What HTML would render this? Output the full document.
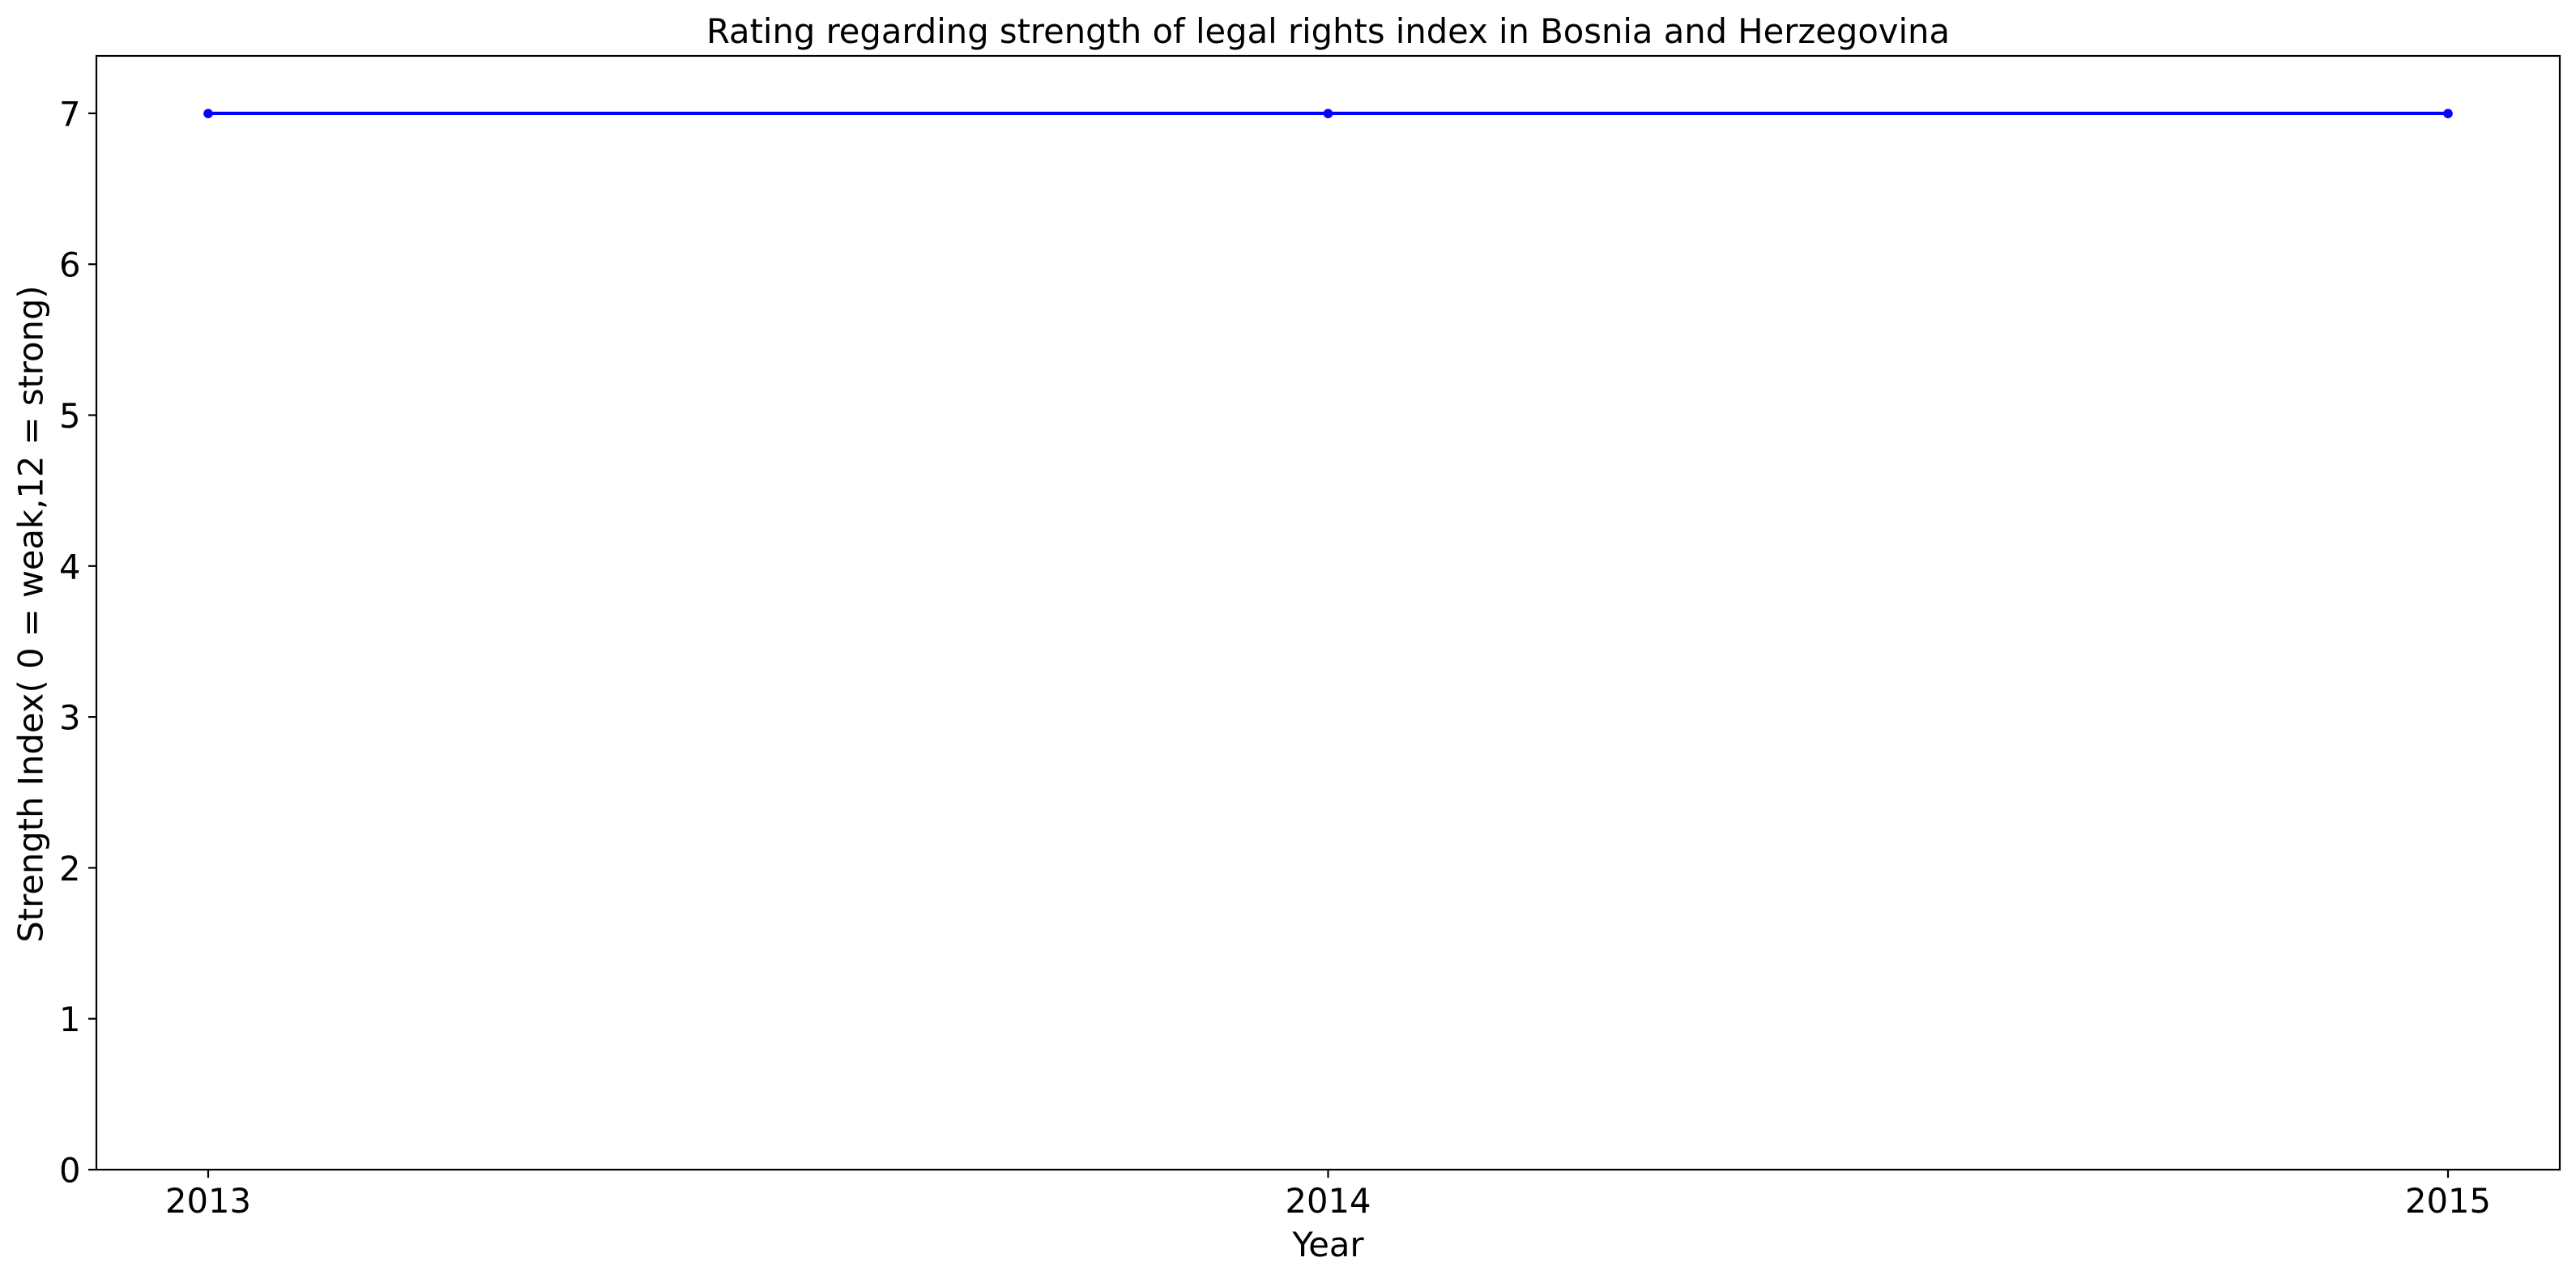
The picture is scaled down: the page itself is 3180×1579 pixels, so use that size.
<!DOCTYPE html>
<html lang="en">
<head>
<meta charset="utf-8">
<title>Rating regarding strength of legal rights index in Bosnia and Herzegovina</title>
<style>
html,body{margin:0;padding:0;background:#fff;}
svg{display:block;}
text{font-family:"DejaVu Sans",sans-serif;fill:#000;}
</style>
</head>
<body>
<svg id="chart" xmlns="http://www.w3.org/2000/svg" width="3180" height="1579" viewBox="0 0 3180 1579">
  <rect x="0" y="0" width="3180" height="1579" fill="#fff"/>
  <text x="1639.5" y="53" text-anchor="middle" font-size="41.67">Rating regarding strength of legal rights index in Bosnia and Herzegovina</text>
  <text x="1639.5" y="1551" text-anchor="middle" font-size="41.67">Year</text>
  <text transform="translate(52.5 758) rotate(-90)" text-anchor="middle" font-size="41.67">Strength Index( 0 = weak,12 = strong)</text>
  <g id="ticks"></g>
  <g id="series"></g>
  <rect x="119" y="69" width="3041" height="1375" fill="none" stroke="#000" stroke-width="2.2"/>
</svg>
<script>
const years = [2013, 2014, 2015];
const strengthValues = [7, 7, 7];
const yTickValues = [0, 1, 2, 3, 4, 5, 6, 7];
const xTickLabels = ['2013', '2014', '2015'];

const NS = 'http://www.w3.org/2000/svg';
function xScale(year) { return 257 + (year - 2013) * 1382.5; }
function yScale(value) { return 1444 - value * 186.3; }
function make(tag, attrs, parent) {
  const el = document.createElementNS(NS, tag);
  for (const k in attrs) el.setAttribute(k, attrs[k]);
  parent.appendChild(el);
  return el;
}
const ticks = document.getElementById('ticks');
const series = document.getElementById('series');

years.forEach(function (year, i) {
  const x = xScale(year);
  const tick = make('line', {x1: x, x2: x, y1: 1444, y2: 1454, stroke: '#000', 'stroke-width': 2.2}, ticks);
  
  
  const label = make('text', {x: x, y: 1497, 'text-anchor': 'middle', 'font-size': 41.67}, ticks);
  
  
  label.textContent = xTickLabels[i];
});

yTickValues.forEach(function (value) {
  const y = yScale(value);
  const tick = make('line', {x1: 109, x2: 119, y1: y, y2: y, stroke: '#000', 'stroke-width': 2.2}, ticks);
  
  
  const label = make('text', {x: 99.5, y: y + 15.5, 'text-anchor': 'end', 'font-size': 41.67}, ticks);
  
  
  label.textContent = String(value);
});

const linePoints = years.map(function (year, i) {
  return xScale(year) + ',' + yScale(strengthValues[i]);
}).join(' ');
const line = make('polyline', {points: linePoints, fill: 'none', stroke: '#0000ff', 'stroke-width': 4.17}, series);



years.forEach(function (year, i) {
  const point = make('circle', {cx: xScale(year), cy: yScale(strengthValues[i]) + 0.3, r: 5.8, fill: '#0000ff'}, series);
  
  
});
</script>
</body>
</html>
